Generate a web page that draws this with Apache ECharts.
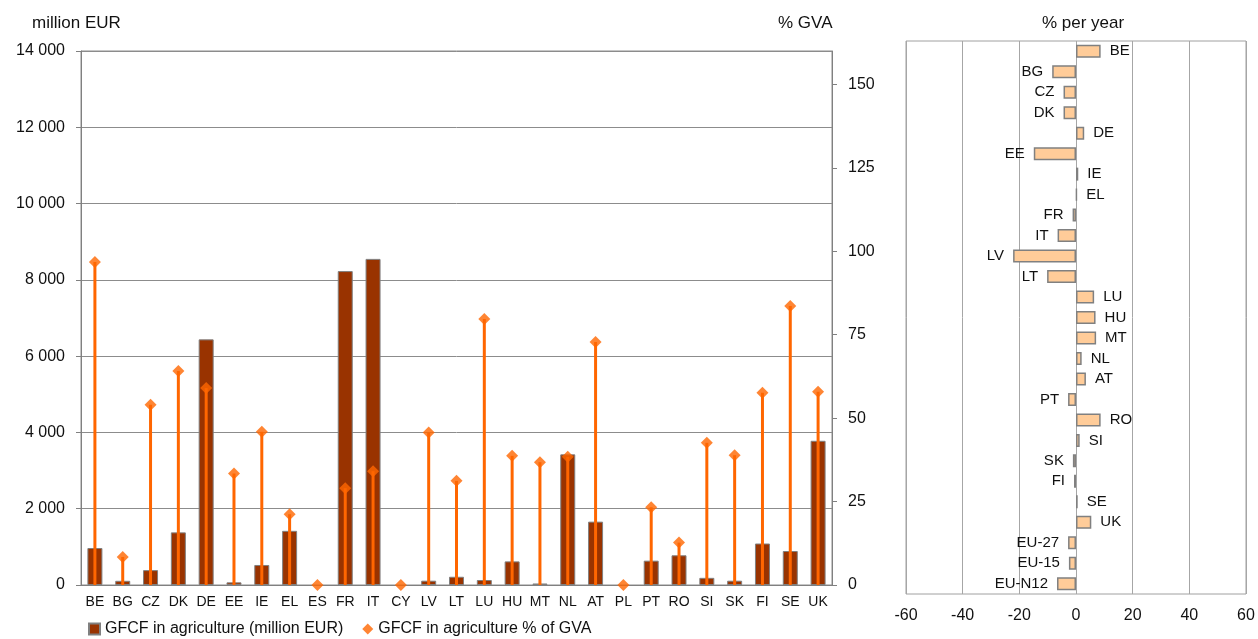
<!DOCTYPE html>
<html>
<head>
<meta charset="utf-8">
<title>GFCF in agriculture</title>
<script src="https://cdn.jsdelivr.net/npm/echarts@6/dist/echarts.min.js"></script>
<style>
  html, body { margin: 0; padding: 0; background: #fff; }
  #chart { width: 1258px; height: 639px; }
</style>
</head>
<body>
<div id="chart"></div>
<script>
// Member states shown in the left panel
const categories = ['BE', 'BG', 'CZ', 'DK', 'DE', 'EE', 'IE', 'EL', 'ES', 'FR', 'IT', 'CY', 'LV', 'LT',
  'LU', 'HU', 'MT', 'NL', 'AT', 'PL', 'PT', 'RO', 'SI', 'SK', 'FI', 'SE', 'UK'];

// Gross fixed capital formation in agriculture, million EUR (null = not available)
const gfcfMillionEur = [970, 110, 390, 1380, 6440, 70, 525, 1420, null, 8230, 8550, null, 113, 216,
  131, 619, 40, 3425, 1661, null, 638, 779, 188, 113, 1088, 891, 3781];

// GFCF in agriculture as % of gross value added
const gfcfShareGva = [96.8, 8.4, 54.0, 64.1, 59.0, 33.4, 45.9, 21.2, 0, 29.0, 34.1, 0, 45.7, 31.2,
  79.7, 38.7, 36.8, 38.4, 72.8, 0, 23.3, 12.7, 42.6, 38.9, 57.6, 83.6, 57.9];

// Right panel: average annual change, % per year
const growthCategories = ['BE', 'BG', 'CZ', 'DK', 'DE', 'EE', 'IE', 'EL', 'FR', 'IT', 'LV', 'LT', 'LU', 'HU',
  'MT', 'NL', 'AT', 'PT', 'RO', 'SI', 'SK', 'FI', 'SE', 'UK', 'EU-27', 'EU-15', 'EU-N12'];
const growthRate = [8.7, -8.4, -4.4, -4.4, 2.9, -14.9, 0.8, 0.3, -1.2, -6.5, -22.2, -10.2, 6.4, 6.9,
  7.1, 2.0, 3.5, -2.8, 8.7, 1.3, -1.1, -0.7, 0.6, 5.4, -2.8, -2.5, -6.7];

// Tick labels
const gvaTicks = [0, 25, 50, 75, 100, 125, 150];

const FONT = 'Liberation Sans, Arial, Helvetica, sans-serif';
const GRID_GRAY = '#8c8c8c';
const TEXT = '#111';

const chart = echarts.init(document.getElementById('chart'), null, { renderer: 'canvas' });

const fmtThousands = v => String(v).replace(/\B(?=(\d{3})+(?!\d))/g, ' ');
const titleStyle = { fontSize: 17, fontWeight: 'normal', color: TEXT, fontFamily: FONT };

chart.setOption({
  animation: false,
  textStyle: { fontFamily: FONT, color: TEXT },
  title: [
    { text: 'million EUR', left: 32, top: 15, padding: 0, textStyle: titleStyle },
    { text: '% GVA', left: 778, top: 15, padding: 0, textStyle: titleStyle },
    { text: '% per year', left: 1083, textAlign: 'center', top: 15, padding: 0, textStyle: titleStyle }
  ],
  legend: {
    left: 88,
    top: 621,
    padding: 0,
    itemWidth: 11,
    itemHeight: 11,
    itemGap: 19,
    textStyle: { fontSize: 16, color: TEXT, fontFamily: FONT },
    data: [
      { name: 'GFCF in agriculture (million EUR)', icon: 'rect' },
      { name: 'GFCF in agriculture % of GVA', icon: 'diamond' }
    ]
  },
  grid: [
    { left: 81, right: 426, top: 51, bottom: 54, show: true, borderColor: GRID_GRAY, borderWidth: 1 },
    { left: 906, right: 12, top: 41, bottom: 45, show: true, borderColor: '#a0a0a0', borderWidth: 1 }
  ],
  xAxis: [
    {
      type: 'category', gridIndex: 0, data: categories,
      axisLine: { lineStyle: { color: '#808080' } },
      axisTick: { length: 5, lineStyle: { color: '#808080' } },
      axisLabel: { interval: 0, fontSize: 14, margin: 10, color: TEXT, fontFamily: FONT }
    },
    { type: 'category', gridIndex: 0, data: categories, show: false },
    {
      type: 'value', gridIndex: 1, min: -60, max: 60, interval: 20,
      axisLine: { show: false }, axisTick: { show: false },
      splitLine: { lineStyle: { color: '#a6a6a6' } },
      axisLabel: { fontSize: 16, margin: 14, color: TEXT, fontFamily: FONT }
    }
  ],
  yAxis: [
    {
      type: 'value', gridIndex: 0, min: 0, max: 14000, interval: 2000,
      axisLine: { show: true, lineStyle: { color: '#808080' } },
      axisTick: { show: true, length: 5, lineStyle: { color: '#808080' } },
      splitLine: { lineStyle: { color: GRID_GRAY } },
      axisLabel: { fontSize: 16, margin: 16, color: TEXT, fontFamily: FONT, formatter: fmtThousands }
    },
    {
      type: 'value', gridIndex: 0, position: 'right', min: 0, max: 160, interval: 25,
      axisLine: { show: true, lineStyle: { color: '#808080' } },
      axisTick: { show: true, length: 5, customValues: gvaTicks, lineStyle: { color: '#808080' } },
      splitLine: { show: false },
      axisLabel: { fontSize: 16, margin: 16, color: TEXT, fontFamily: FONT, customValues: gvaTicks }
    },
    {
      type: 'category', gridIndex: 1, data: growthCategories, inverse: true,
      axisLine: { show: false }, axisTick: { show: false }, axisLabel: { show: false }
    }
  ],
  series: [
    {
      name: 'GFCF in agriculture (million EUR)',
      type: 'bar', xAxisIndex: 0, yAxisIndex: 0,
      data: gfcfMillionEur,
      barWidth: 15,
      itemStyle: { color: '#993300', borderColor: '#808080', borderWidth: 1 },
      z: 2
    },
    {
      // drop lines from the axis up to each % GVA marker
      type: 'bar', xAxisIndex: 1, yAxisIndex: 1,
      data: gfcfShareGva,
      barWidth: 3,
      itemStyle: { color: '#FF6600' },
      legendHoverLink: false,
      z: 3
    },
    {
      name: 'GFCF in agriculture % of GVA',
      type: 'scatter', xAxisIndex: 0, yAxisIndex: 1,
      data: gfcfShareGva,
      symbol: 'diamond', symbolSize: 12,
      itemStyle: { color: '#FF6600' },
      z: 4
    },
    {
      type: 'bar', xAxisIndex: 2, yAxisIndex: 2,
      data: growthRate,
      barWidth: 13,
      itemStyle: { color: '#FFCC99', borderColor: '#808080', borderWidth: 1.5 },
      label: { show: true, position: 'outside', distance: 9, formatter: '{b}', fontSize: 15, color: TEXT, fontFamily: FONT },
      z: 2
    }
  ]
});
</script>
</body>
</html>
